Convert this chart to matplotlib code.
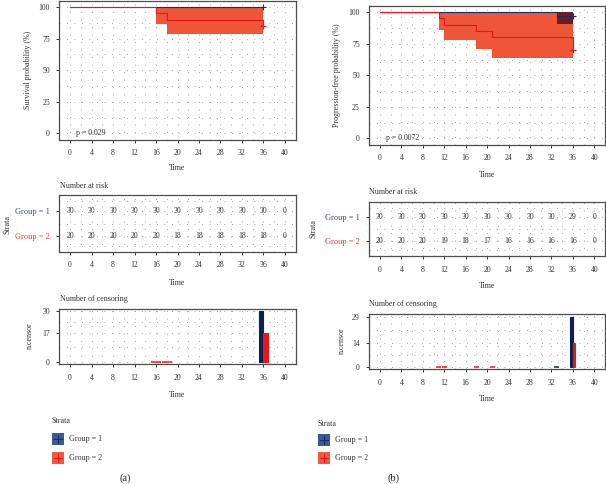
import matplotlib
matplotlib.use("Agg")
import matplotlib.pyplot as plt
from matplotlib.patches import Rectangle

plt.rcParams['font.family'] = ['Liberation Serif', 'DejaVu Serif']

# ---- data -------------------------------------------------------------
time_ticks = [0, 4, 8, 12, 16, 20, 24, 28, 32, 36, 40]
surv_ticks = [0, 25, 50, 75, 100]
group_names = ["Group = 1", "Group = 2"]

# panel (a): overall survival
a_g1_t = [0, 36]
a_g1_s = [100, 100]
a_g2_t = [0, 16, 18, 36]
a_g2_s = [100, 95, 90, 85]
a_g1_ci_t = [0, 36]
a_g1_lo = [100, 100]
a_g1_hi = [100, 100]
a_g2_ci_t = [16, 18, 36]
a_g2_lo = [86.5, 78.5, 78.5]
a_g2_hi = [100, 100, 100]
a_pval = "p = 0.029"
a_risk_g1 = [30, 30, 30, 30, 30, 30, 30, 30, 30, 30, 0]
a_risk_g2 = [20, 20, 20, 20, 20, 18, 18, 18, 18, 18, 0]
a_cens_g1_t = [36]
a_cens_g1_n = [30]
a_cens_g2_t = [16, 18, 36]
a_cens_g2_n = [0, 0, 17]

# panel (b): progression-free survival
b_g1_t = [0, 33, 36]
b_g1_s = [100, 96.7, 96.7]
b_g2_t = [0, 11, 12, 18, 21, 36]
b_g2_s = [100, 95, 90, 85, 80, 70]
b_g1_ci_t = [33, 36]
b_g1_lo = [90.5, 90.5]
b_g1_hi = [100, 100]
b_g2_ci_t = [11, 12, 18, 21, 36]
b_g2_lo = [86, 78, 70.5, 64, 64]
b_g2_hi = [100, 100, 100, 100, 100]
b_pval = "p = 0.0072"
b_risk_g1 = [30, 30, 30, 30, 30, 30, 30, 30, 30, 29, 0]
b_risk_g2 = [20, 20, 20, 19, 18, 17, 16, 16, 16, 16, 0]
b_cens_g1_t = [33, 36]
b_cens_g1_n = [0, 29]
b_cens_g2_t = [11, 12, 18, 21, 36]
b_cens_g2_n = [0, 0, 0, 0, 14]

# ---- style ------------------------------------------------------------
W, H = 606, 484
FS = 5.6
G1_LINE = '#1c2a6a'
G2_LINE = '#e8161b'
G1_CI = '#6a1e24'
G2_CI = '#ef5638'
G1_BAR = '#0e1f52'
G1_KEY = '#3a5a9c'
G2_KEY = '#ef5a3f'
G1_TXT = '#3a4b8f'
G2_TXT = '#f03c2f'
GRID = '#8a8a8a'
FRAME = '#4d4d4d'
DOTS = (0, (1, 8))


def rect(x0, x1, y0, y1):
    return [x0 / W, 1 - y1 / H, (x1 - x0) / W, (y1 - y0) / H]


def base_axes(ax, ylim, yrows):
    ax.set_xlim(-2, 42)
    ax.set_ylim(*ylim)
    for v in range(-2, 43, 2):
        ax.axvline(v, color=GRID, lw=0.6, ls=DOTS, zorder=0)
    for v in yrows:
        ax.axhline(v, color=GRID, lw=0.6, ls=DOTS, zorder=0)
    for s in ax.spines.values():
        s.set_color(FRAME)
        s.set_linewidth(0.9)
    ax.set_xticks(time_ticks)
    ax.tick_params(labelsize=FS, length=2.2, width=0.7, color='#333333',
                   pad=4.5, labelcolor='#333333')


def surv_panel(box, g1_t, g1_s, g2_t, g2_s, ci1, ci2, pval):
    ax = fig.add_axes(rect(*box))
    rows = [v / 2 for v in range(0, 201, 25)]
    base_axes(ax, (-5, 105), rows)
    ax.set_yticks(surv_ticks)
    ax.fill_between(ci2[0], ci2[1], ci2[2], step='post', color=G2_CI, lw=0, zorder=2)
    ax.fill_between(ci1[0], ci1[1], ci1[2], step='post', color=G1_CI, lw=0, zorder=2)
    ax.step(g1_t, g1_s, where='post', color=G1_LINE, lw=0.8, zorder=3)
    ax.step(g2_t, g2_s, where='post', color=G2_LINE, lw=0.8, zorder=3)
    ax.plot(g1_t[-1], g1_s[-1], '+', color=G1_LINE, ms=4.5, mew=0.8, zorder=4)
    ax.plot(g2_t[-1], g2_s[-1], '+', color=G2_LINE, ms=4.5, mew=0.8, zorder=4)
    ax.text(1.2, 0, pval, fontsize=FS, color='#333333', va='center', ha='left', zorder=4)
    return ax


def risk_panel(box, r1, r2):
    ax = fig.add_axes(rect(*box))
    base_axes(ax, (0.4, 2.6), [0.65, 1, 1.5, 2, 2.35])
    ax.set_yticks([2, 1])
    ax.set_yticklabels(group_names)
    for lab, c in zip(ax.get_yticklabels(), [G1_TXT, G2_TXT]):
        lab.set_color(c)
    ax.tick_params(axis='y', labelsize=FS + 0.4)
    for t, n1, n2 in zip(time_ticks, r1, r2):
        ax.text(t, 2, str(n1), fontsize=FS, ha='center', va='center', color='#333333')
        ax.text(t, 1, str(n2), fontsize=FS, ha='center', va='center', color='#333333')
    return ax


def cens_panel(box, t1, n1, t2, n2):
    ax = fig.add_axes(rect(*box))
    top = max(n1 + n2)
    yt = sorted(set([0] + n1 + n2))
    rows = yt + [(yt[i] + yt[i + 1]) / 2 for i in range(len(yt) - 1)]
    base_axes(ax, (-0.05 * top, 1.05 * top), rows)
    ax.set_yticks(yt)
    alltimes = sorted(set(t1 + t2))
    res = min(b - a for a, b in zip(alltimes[:-1], alltimes[1:]))
    w = 0.9 * res
    both = set(t1) & set(t2)
    for ts, ns, col, side in [(t1, n1, G1_BAR, -1), (t2, n2, G2_LINE, 1)]:
        for t, n in zip(ts, ns):
            lw = 0.8 if n > 0 else 1.5
            if t in both:
                ax.bar(t + side * w / 4, n, width=w / 2, color=col, ec=col, lw=lw, zorder=3)
            else:
                ax.bar(t, n, width=w, color=col, ec=col, lw=lw, zorder=3,
                       alpha=1 if n > 0 else 0.75)
    return ax


fig = plt.figure(figsize=(W / 100, H / 100), dpi=100)

# panel (a)
surv_panel((59.3, 295.7, 0.6, 139.8), a_g1_t, a_g1_s, a_g2_t, a_g2_s,
           (a_g1_ci_t, a_g1_lo, a_g1_hi), (a_g2_ci_t, a_g2_lo, a_g2_hi), a_pval)
risk_panel((59.3, 295.7, 195, 252), a_risk_g1, a_risk_g2)
cens_panel((59.3, 295.7, 308.5, 364.3), a_cens_g1_t, a_cens_g1_n, a_cens_g2_t, a_cens_g2_n)

# panel (b)
surv_panel((369.2, 605, 5.8, 144.8), b_g1_t, b_g1_s, b_g2_t, b_g2_s,
           (b_g1_ci_t, b_g1_lo, b_g1_hi), (b_g2_ci_t, b_g2_lo, b_g2_hi), b_pval)
risk_panel((369.2, 605, 201.7, 256.2), b_risk_g1, b_risk_g2)
cens_panel((369.2, 605, 314.2, 369.2), b_cens_g1_t, b_cens_g1_n, b_cens_g2_t, b_cens_g2_n)

# overlay for labels and legends (pixel coordinates)
ov = fig.add_axes([0, 0, 1, 1], zorder=10)
ov.set_xlim(0, W)
ov.set_ylim(H, 0)
ov.axis('off')
ov.patch.set_alpha(0)

txt = dict(fontsize=FS + 0.2, color='#333333')
labels = [
    # (x, y, text, rotation, ha)
    (177.5, 168, "Time", 0, 'center'),
    (177.5, 283, "Time", 0, 'center'),
    (177.5, 395, "Time", 0, 'center'),
    (487, 175, "Time", 0, 'center'),
    (487, 286.5, "Time", 0, 'center'),
    (487, 399, "Time", 0, 'center'),
    (28, 70, "Survival probability (%)", 90, 'center'),
    (337, 75, "Progression-free probability (%)", 90, 'center'),
    (7, 224, "Strata", 90, 'center'),
    (314, 229, "Strata", 90, 'center'),
    (30, 336, "n.censor", 90, 'center'),
    (342, 341, "n.censor", 90, 'center'),
    (60, 185.5, "Number at risk", 0, 'left'),
    (369, 191.5, "Number at risk", 0, 'left'),
    (60, 299, "Number of censoring", 0, 'left'),
    (369, 304, "Number of censoring", 0, 'left'),
]
for x, y, s, rot, ha in labels:
    ov.text(x, y, s, rotation=rot, ha=ha, va='center', **txt)

for lx, ty, ys in [(52, 421, (439, 458)), (318, 424, (440, 457.5))]:
    ov.text(lx, ty, "Strata", ha='left', va='center', **txt)
    for yc, key, line, name in zip(ys, [G1_KEY, G2_KEY], [G1_LINE, G2_LINE], group_names):
        ov.add_patch(Rectangle((lx, yc - 6), 12, 12, fc=key, ec='none'))
        ov.plot([lx + 2, lx + 10], [yc, yc], color=line, lw=0.8)
        ov.plot([lx + 6, lx + 6], [yc - 4, yc + 4], color=line, lw=0.8)
        ov.text(lx + 17, yc, name, ha='left', va='center', **txt)

ov.text(125, 478.5, "(a)", ha='center', va='center', fontsize=7.5, color='#222222')
ov.text(393, 478.5, "(b)", ha='center', va='center', fontsize=7.5, color='#222222')

fig.savefig("out.png", dpi=100)
